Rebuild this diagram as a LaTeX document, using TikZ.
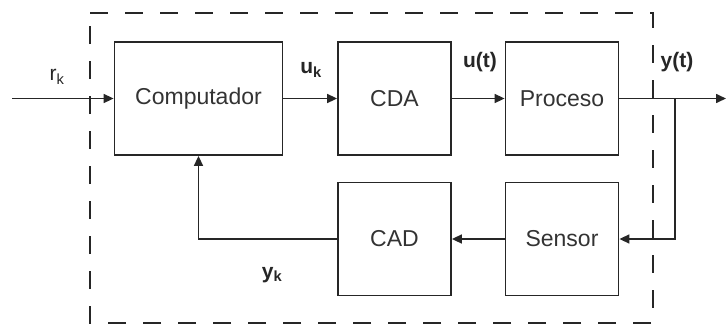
\documentclass[tikz,border=0pt]{standalone}
\usepackage{fontspec}
\setmainfont{Liberation Sans}
\usetikzlibrary{arrows.meta}
\begin{document}
\begin{tikzpicture}[x=1pt,y=-1pt,
  blk/.style={draw=black!85,line width=1.8pt,minimum width=168pt,minimum height=113pt,inner sep=0pt,font=\fontsize{23}{26}\selectfont,text=black!80},
  sblk/.style={blk,minimum width=113pt},
  conn/.style={draw=black!85,line width=1.6pt},
  arr/.style={conn,-{Triangle[length=10pt,width=9pt]}},
  lbl/.style={font=\bfseries\fontsize{21}{23}\selectfont,text=black!85,inner sep=0pt},
  border/.style={draw=black!85,line width=2.4pt,dash pattern=on 18pt off 17pt}]
\useasboundingbox (0,0) rectangle (726,327);
\draw[border] (90,13) -- (653,13) -- (653,323) -- (90,323) -- cycle;
\node[blk] (comp) at (198.5,98.5) {Computador};
\node[sblk] (cda) at (394.5,98.5) {CDA};
\node[sblk] (proc) at (562,98.5) {Proceso};
\node[sblk] (cad) at (394.5,239) {CAD};
\node[sblk] (sens) at (562,239) {Sensor};
\coordinate (in) at (12,98.5);
\coordinate (out) at (726,98.5);
\coordinate (br) at (675,98.5);
\draw[arr] (in) -- (comp.west);
\draw[arr] (comp.east) -- (cda.west);
\draw[arr] (cda.east) -- (proc.west);
\draw[arr] (proc.east) -- (out);
\draw[arr] (br) |- (sens.east);
\draw[arr] (sens.west) -- (cad.west -| cad.east);
\draw[arr] (cad.west) -| (comp.south);
\node[inner sep=0pt,font=\fontsize{21}{23}\selectfont,text=black!85] (rk) at (57,77) {r$_{\mathrm{k}}$};
\node[lbl] (uk) at (311,70) {u$_{\mathbf{k}}$};
\node[lbl] (ut) at (480,62) {u(t)};
\node[lbl] (yt) at (677,62) {y(t)};
\node[lbl] (yk) at (272,275) {y$_{\mathbf{k}}$};
\end{tikzpicture}
\end{document}
